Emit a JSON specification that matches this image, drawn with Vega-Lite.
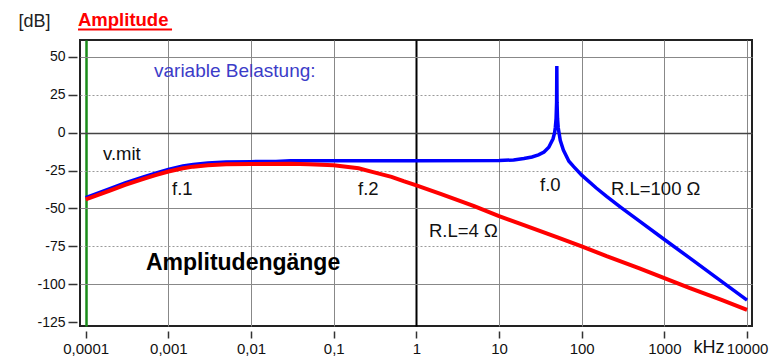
{
  "$schema": "https://vega.github.io/schema/vega-lite/v6.json",
  "width": 672,
  "height": 286,
  "autosize": {"type": "none"},
  "padding": {"left": 80, "top": 40, "right": 19, "bottom": 32},
  "background": "white",
  "config": {
    "view": {"stroke": "#222", "strokeWidth": 2},
    "font": "Liberation Sans",
    "text": {"font": "Liberation Sans"}
  },
  "datasets": {
    "blue": [
      {"f": 0.0001, "db": -42.8}, {"f": 0.0002, "db": -36.8}, {"f": 0.0003, "db": -33.2},
      {"f": 0.0005, "db": -29.2}, {"f": 0.0007, "db": -26.7}, {"f": 0.001, "db": -24.3},
      {"f": 0.0015, "db": -22}, {"f": 0.002, "db": -20.9}, {"f": 0.003, "db": -20},
      {"f": 0.005, "db": -19.4}, {"f": 0.01, "db": -19.1}, {"f": 0.02, "db": -19},
      {"f": 0.03, "db": -18.5}, {"f": 0.1, "db": -18.5}, {"f": 1, "db": -18.5},
      {"f": 10, "db": -18.3}, {"f": 15, "db": -18}, {"f": 20, "db": -17},
      {"f": 25, "db": -16}, {"f": 30, "db": -14.6}, {"f": 35, "db": -12.7},
      {"f": 40, "db": -9.6}, {"f": 45, "db": -4}, {"f": 47, "db": 0},
      {"f": 48, "db": 3.6}, {"f": 49, "db": 9.5}, {"f": 49.7, "db": 20},
      {"f": 50, "db": 44}, {"f": 50.3, "db": 20}, {"f": 51, "db": 9.4},
      {"f": 52, "db": 3.3}, {"f": 55, "db": -5}, {"f": 60, "db": -11.4},
      {"f": 70, "db": -18.8}, {"f": 80, "db": -22.4}, {"f": 100, "db": -28},
      {"f": 150, "db": -36.5}, {"f": 200, "db": -42}, {"f": 300, "db": -49.4},
      {"f": 500, "db": -58.4}, {"f": 1000, "db": -70.5}, {"f": 2000, "db": -82.5},
      {"f": 5000, "db": -98.5}, {"f": 10000, "db": -110.5}
    ],
    "red": [
      {"f": 0.0001, "db": -44}, {"f": 0.0002, "db": -38.1}, {"f": 0.0003, "db": -34.5},
      {"f": 0.0005, "db": -30.5}, {"f": 0.0007, "db": -28}, {"f": 0.001, "db": -25.6},
      {"f": 0.0015, "db": -23.5}, {"f": 0.002, "db": -22.4}, {"f": 0.003, "db": -21.5},
      {"f": 0.005, "db": -20.9}, {"f": 0.01, "db": -20.6}, {"f": 0.03, "db": -20.5},
      {"f": 0.05, "db": -20.8}, {"f": 0.1, "db": -21.5}, {"f": 0.2, "db": -23.5},
      {"f": 0.3, "db": -26}, {"f": 0.5, "db": -29.1}, {"f": 0.7, "db": -32},
      {"f": 1, "db": -34.8}, {"f": 2, "db": -40.5}, {"f": 5, "db": -48.5},
      {"f": 10, "db": -55}, {"f": 20, "db": -61}, {"f": 50, "db": -69},
      {"f": 100, "db": -75}, {"f": 200, "db": -81.5}, {"f": 500, "db": -89.5},
      {"f": 1000, "db": -96}, {"f": 2000, "db": -102.5}, {"f": 5000, "db": -110.5},
      {"f": 10000, "db": -117}
    ],
    "blueText": [
      {"f": 0.00067, "db": 37.0, "label": "variable Belastung:"}
    ],
    "blackText": [
      {"f": 0.000162, "db": -18.0, "label": "v.mit"},
      {"f": 0.001107, "db": -41.1, "label": "f.1"},
      {"f": 0.197, "db": -41.1, "label": "f.2"},
      {"f": 31.3, "db": -38.5, "label": "f.0"},
      {"f": 226, "db": -41.1, "label": "R.L=100  Ω"},
      {"f": 1.42, "db": -68.6, "label": "R.L=4 Ω"}
    ],
    "boldText": [
      {"f": 0.000536, "db": -90.6, "label": "Amplitudengänge"}
    ],
    "header": [
      {"f": 0.0000807, "db": 70.4, "label": "Amplitude"}
    ],
    "underline": [
      {"f": 0.0000807, "f2": 0.001107, "db": 68.1}
    ]
  },
  "layer": [
    {
      "data": {"name": "blue"},
      "mark": {"type": "line", "color": "#0000ff", "strokeWidth": 3.5, "clip": true},
      "encoding": {
        "x": {
          "field": "f", "type": "quantitative",
          "scale": {"type": "log", "domain": [0.0000853, 11482], "nice": false},
          "axis": {
            "values": [0.0001, 0.001, 0.01, 0.1, 1, 10, 100, 1000, 10000],
            "labelExpr": "replace(format(datum.value, '~f'), '.', ',')",
            "title": "kHz", "titleX": 613, "titleY": 21, "titleAlign": "left",
            "titleBaseline": "alphabetic", "titleFontSize": 18, "titleFontWeight": "normal",
            "titleColor": "#111", "titleFont": "Liberation Sans",
            "domain": false, "offset": 5, "tickSize": 7, "tickColor": "#333", "tickWidth": 1.5,
            "labelFontSize": 15, "labelColor": "#111", "labelPadding": 3, "labelFont": "Liberation Sans",
            "labelFlush": false, "labelOverlap": false,
            "grid": true,
            "gridColor": {"condition": [{"test": "datum.value === 1", "value": "#000000"}, {"test": "datum.value < 0.0002", "value": "#1a8c1a"}], "value": "#888888"},
            "gridWidth": {"condition": [{"test": "datum.value === 1", "value": 2}, {"test": "datum.value < 0.0002", "value": 2.5}], "value": 1},
            "gridOpacity": 1
          }
        },
        "y": {
          "field": "db", "type": "quantitative",
          "scale": {"domain": [-127.6, 61.2], "nice": false, "zero": false},
          "axis": {
            "values": [50, 25, 0, -25, -50, -75, -100, -125],
            "labelExpr": "'' + datum.value",
            "title": "[dB]", "titleAngle": 0, "titleX": -59, "titleY": -13.3,
            "titleAlign": "left", "titleBaseline": "alphabetic", "titleFontSize": 18,
            "titleFontWeight": "normal", "titleColor": "#222", "titleFont": "Liberation Sans",
            "domain": false, "offset": 3, "tickSize": 9, "tickColor": "#333", "tickWidth": 1.5,
            "labelPadding": 3, "labelFontSize": 14, "labelColor": "#111", "labelFont": "Liberation Sans",
            "labelOverlap": false,
            "grid": true,
            "gridColor": {"condition": [{"test": "datum.value === 0", "value": "#444444"}, {"test": "datum.value % 50 !== 0", "value": "#9a9a9a"}], "value": "#888888"},
            "gridDash": {"condition": {"test": "datum.value % 50 !== 0", "value": [2, 2]}, "value": []},
            "gridOpacity": {"condition": {"test": "datum.value === -125", "value": 0}, "value": 1},
            "gridWidth": {"condition": {"test": "datum.value === 0", "value": 1.5}, "value": 1}
          }
        }
      }
    },
    {
      "data": {"name": "red"},
      "mark": {"type": "line", "color": "#ff0000", "strokeWidth": 4, "clip": true},
      "encoding": {
        "x": {"field": "f", "type": "quantitative"},
        "y": {"field": "db", "type": "quantitative"}
      }
    },
    {
      "data": {"name": "blueText"},
      "mark": {"type": "text", "align": "left", "baseline": "alphabetic", "fontSize": 19, "color": "#3c3cc8"},
      "encoding": {
        "x": {"field": "f", "type": "quantitative"},
        "y": {"field": "db", "type": "quantitative"},
        "text": {"field": "label"}
      }
    },
    {
      "data": {"name": "blackText"},
      "mark": {"type": "text", "align": "left", "baseline": "alphabetic", "fontSize": 18.5, "color": "#111111"},
      "encoding": {
        "x": {"field": "f", "type": "quantitative"},
        "y": {"field": "db", "type": "quantitative"},
        "text": {"field": "label"}
      }
    },
    {
      "data": {"name": "boldText"},
      "mark": {"type": "text", "align": "left", "baseline": "alphabetic", "fontSize": 23, "fontWeight": "bold", "color": "#000000"},
      "encoding": {
        "x": {"field": "f", "type": "quantitative"},
        "y": {"field": "db", "type": "quantitative"},
        "text": {"field": "label"}
      }
    },
    {
      "data": {"name": "header"},
      "mark": {"type": "text", "align": "left", "baseline": "alphabetic", "fontSize": 18.5, "fontWeight": "bold", "color": "#ff0000"},
      "encoding": {
        "x": {"field": "f", "type": "quantitative"},
        "y": {"field": "db", "type": "quantitative"},
        "text": {"field": "label"}
      }
    },
    {
      "data": {"name": "underline"},
      "mark": {"type": "rule", "color": "#ff0000", "strokeWidth": 2},
      "encoding": {
        "x": {"field": "f", "type": "quantitative"},
        "x2": {"field": "f2"},
        "y": {"field": "db", "type": "quantitative"}
      }
    }
  ]
}
